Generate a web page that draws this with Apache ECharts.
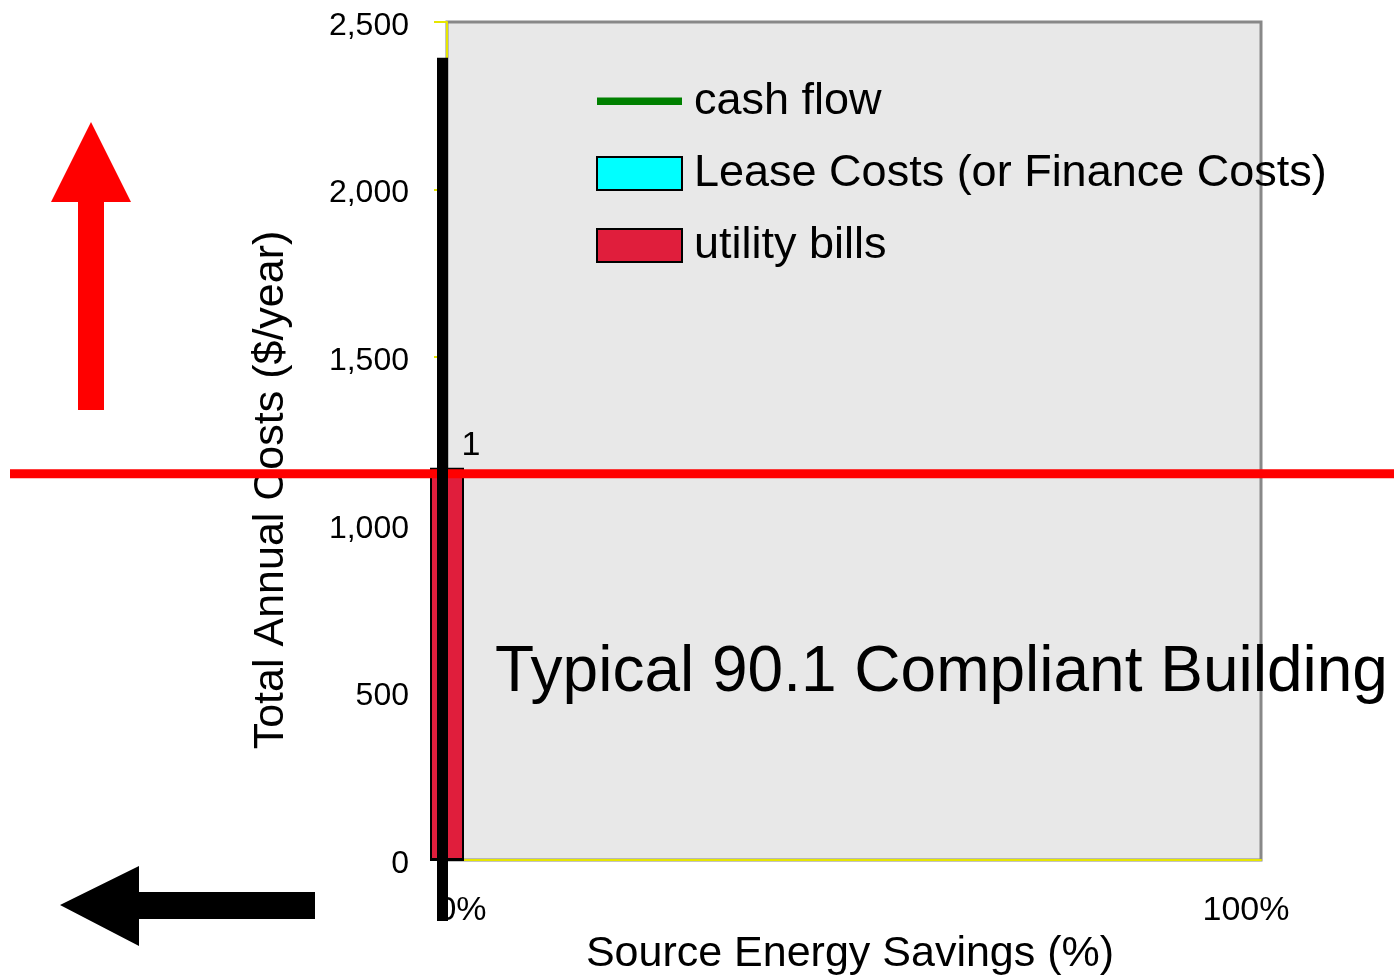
<!DOCTYPE html>
<html>
<head>
<meta charset="utf-8">
<script src="https://cdn.jsdelivr.net/npm/echarts@6/dist/echarts.min.js"></script>
<style>
  html, body { margin: 0; padding: 0; background: #fff; }
  #chart { width: 1394px; height: 977px; }
</style>
</head>
<body>
<div id="chart"></div>
<script>
// axis ticks
const xTicks = [0, 100];
const xTickLabels = ['0%', '100%'];
const yTicks = [0, 500, 1000, 1500, 2000, 2500];

// one case: the typical 90.1 building, at 0% savings
const savings = [0];
const utilityBills = [1170];
const leaseCosts = [0];
const cashFlow = [];
const pointLabels = ['1'];

// annotations
const baselineCost = 1152;        // red reference line
const markerRange = [2393, -182]; // black vertical marker (top, bottom)

const font = '"Liberation Sans", Arial, sans-serif';
const chart = echarts.init(document.getElementById('chart'));

const toPairs = (vals) => vals.map((v, i) => [savings[i], v]);

chart.setOption({
  animation: false,
  textStyle: { fontFamily: font, color: '#000' },
  grid: {
    left: 447, right: 133, top: 22, bottom: 117,
    show: true,
    backgroundColor: '#e8e8e8',
    borderColor: '#888',
    borderWidth: 3,
    outerBoundsMode: 'none'
  },
  legend: {
    orient: 'vertical',
    left: 596,
    top: 79,
    padding: 0,
    itemWidth: 85,
    itemHeight: 33,
    itemGap: 27,
    data: [
      { name: 'cash flow', icon: 'path://M0,0 M85,33 M0,12.5 L85,12.5 L85,20 L0,20 Z' },
      { name: 'Lease Costs (or Finance Costs)', icon: 'rect' },
      { name: 'utility bills', icon: 'rect' }
    ],
    textStyle: { fontSize: 45, color: '#000', fontFamily: font, padding: [0, 0, 0, 7] }
  },
  xAxis: {
    type: 'value',
    min: xTicks[0],
    max: xTicks[xTicks.length - 1],
    interval: xTicks[1] - xTicks[0],
    name: 'Source Energy Savings (%)',
    nameLocation: 'middle',
    nameGap: 72,
    nameTextStyle: { fontSize: 43, color: '#000', padding: [0, 8, 0, 0] },
    axisLine: { show: true, lineStyle: { color: '#e6e600', width: 2 } },
    axisTick: { show: false },
    splitLine: { show: false },
    axisLabel: {
      margin: 34,
      fontSize: 34,
      color: '#000',
      formatter: (v) => {
        const i = xTicks.indexOf(v);
        return i === 0 ? '{lo|' + xTickLabels[i] + '}' : '{hi|' + xTickLabels[i] + '}';
      },
      rich: {
        lo: { fontSize: 34, padding: [0, 0, 0, 30] },
        hi: { fontSize: 34, padding: [0, 30, 0, 0] }
      }
    }
  },
  yAxis: {
    type: 'value',
    min: yTicks[0],
    max: yTicks[yTicks.length - 1],
    interval: yTicks[1] - yTicks[0],
    name: 'Total Annual Costs ($/year)',
    nameLocation: 'middle',
    nameGap: 154,
    nameTextStyle: { fontSize: 43, color: '#000', padding: [0, 98, 0, 0] },
    axisLine: { show: true, lineStyle: { color: '#e6e600', width: 2 } },
    axisTick: { show: true, inside: false, length: 13, lineStyle: { color: '#e6e600', width: 2 } },
    splitLine: { show: false },
    axisLabel: {
      margin: 38,
      fontSize: 32,
      color: '#000',
      formatter: (v) => '{t|' + v.toLocaleString('en-US') + '}',
      rich: {
        t: { fontSize: 32, padding: [8, 0, 0, 0] }
      }
    }
  },
  series: [
    {
      name: 'utility bills',
      type: 'bar',
      stack: 'cost',
      clip: false,
      barWidth: 34,
      itemStyle: { color: '#e01e3c', borderColor: '#000', borderWidth: 2 },
      data: toPairs(utilityBills),
      label: {
        show: true,
        position: 'top',
        offset: [24, 0],
        fontSize: 34,
        color: '#000',
        formatter: (p) => pointLabels[p.dataIndex]
      },
      z: 3
    },
    {
      name: 'Lease Costs (or Finance Costs)',
      type: 'bar',
      stack: 'cost',
      clip: false,
      barWidth: 34,
      itemStyle: { color: '#00ffff', borderColor: '#000', borderWidth: 2 },
      data: toPairs(leaseCosts),
      z: 3
    },
    {
      name: 'cash flow',
      type: 'line',
      symbol: 'none',
      itemStyle: { color: '#008000' },
      lineStyle: { color: '#008000', width: 6 },
      data: cashFlow
    }
  ]
});

// annotations placed through the axes
const [x0, yBase] = chart.convertToPixel({ gridIndex: 0 }, [savings[0], baselineCost]);
const yTop = chart.convertToPixel({ yAxisIndex: 0 }, markerRange[0]);
const yBot = chart.convertToPixel({ yAxisIndex: 0 }, markerRange[1]);

chart.setOption({
  graphic: [
    {
      type: 'text',
      left: 495, top: 641,
      z: 10,
      style: { text: 'Typical 90.1 Compliant Building', fontSize: 64, fontFamily: font, fill: '#000' }
    },
    {
      type: 'line',
      z: 20,
      shape: { x1: 10, y1: yBase, x2: 1394, y2: yBase },
      style: { stroke: '#ff0000', lineWidth: 9 }
    },
    {
      type: 'line',
      z: 21,
      shape: { x1: x0 - 4.5, y1: yTop, x2: x0 - 4.5, y2: yBot },
      style: { stroke: '#000', lineWidth: 11 }
    },
    {
      type: 'polygon',
      z: 20,
      shape: { points: [[91, 122], [131, 202], [104, 202], [104, 410], [78, 410], [78, 202], [51, 202]] },
      style: { fill: '#ff0000' }
    },
    {
      type: 'polygon',
      z: 20,
      shape: { points: [[60, 905], [139, 866], [139, 892], [315, 892], [315, 919], [139, 919], [139, 946]] },
      style: { fill: '#000' }
    }
  ]
});
</script>
</body>
</html>
